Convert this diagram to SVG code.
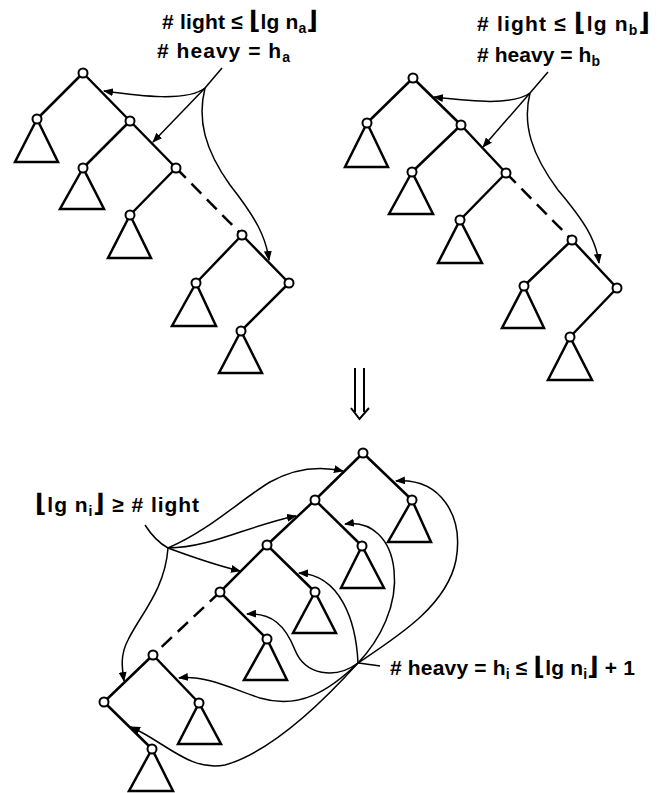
<svg xmlns="http://www.w3.org/2000/svg" width="669" height="793" viewBox="0 0 669 793">
<style>
.e{stroke:#000;stroke-width:2.5;fill:none;stroke-linecap:round}
.d{stroke-dasharray:14 8;stroke-linecap:butt}
.n{fill:#fff;stroke:#000;stroke-width:2}
.t{fill:none;stroke:#000;stroke-width:2.5;stroke-linejoin:miter}
.c{fill:none;stroke:#000;stroke-width:1.5}
.a{marker-end:url(#ah)}
text{font-family:"Liberation Sans","DejaVu Sans",sans-serif;font-weight:bold;font-size:21px;fill:#000}
.s{font-size:14px}
.b{font-size:25px}
</style>
<defs>
<marker id="ah" viewBox="0 0 10 8" refX="9" refY="4" markerWidth="10" markerHeight="8" markerUnits="userSpaceOnUse" orient="auto"><path d="M0,0 L10,4 L0,8 z" fill="#000"/></marker>
</defs>
<rect width="669" height="793" fill="#fff"/>

<g id="connectors">
 <!-- top-left tree edges -->
 <path class="e" d="M83,73 L37,119 M83,73 L130,121 M130,121 L83,168 M130,121 L176,168 M176,168 L130,215 M242,235 L196,283 M242,235 L289,283 M289,283 L241,331"/>
 <path class="e d" d="M176,168 L242,235"/>
 <!-- top-right tree edges -->
 <path class="e" d="M413,78 L367,123 M413,78 L461,125 M461,125 L412,172 M461,125 L506,173 M506,173 L460,220 M572,240 L524,286 M572,240 L617,288 M617,288 L570,337"/>
 <path class="e d" d="M506,173 L572,240"/>
 <!-- bottom tree edges -->
 <path class="e" d="M363,453 L315,500 M363,453 L412,500 M315,500 L267,545 M315,500 L362,546 M267,545 L220,592 M267,545 L315,592 M220,592 L267,639 M153,655 L104,702 M153,655 L199,703 M104,702 L152,749"/>
 <path class="e d" d="M220,592 L153,655"/>

 <!-- top-left annotation curves -->
 <path class="c" d="M222,68 L205,88"/>
 <path class="c a" d="M205,88 C187,102 140,96 104,91"/>
 <path class="c a" d="M205,88 L153,142"/>
 <path class="c a" d="M205,88 C197,120 205,150 230,185 C256,218 266,237 269,260"/>
 <!-- top-right annotation curves -->
 <path class="c" d="M548,72 L530,93"/>
 <path class="c a" d="M530,93 C512,106 470,101 434,97"/>
 <path class="c a" d="M530,93 L483,147"/>
 <path class="c a" d="M530,93 C522,125 532,155 558,190 C585,222 596,240 599,263"/>

 <!-- bottom light curves -->
 <path class="c" d="M145,525 C152,536 159,543 168,548"/>
 <path class="c a" d="M168,548 C210,530 240,500 270,482 C295,468 320,466 343,471"/>
 <path class="c a" d="M168,548 C210,548 250,525 296,516"/>
 <path class="c a" d="M168,548 C195,558 215,565 240,571"/>
 <path class="c a" d="M168,548 C165,590 140,615 128,640 C120,655 122,668 124,681"/>

 <!-- bottom heavy curves -->
 <path class="c" d="M358,663 C366,664 373,665 380,666"/>
 <path class="c a" d="M358,663 C400,635 447,605 456,560 C464,515 440,478 396,481"/>
 <path class="c a" d="M358,663 C380,640 398,605 394,570 C391,540 372,520 345,524"/>
 <path class="c a" d="M358,663 C356,620 340,575 299,573"/>
 <path class="c a" d="M358,663 C335,680 305,675 295,650 C285,625 272,613 247,614"/>
 <path class="c a" d="M358,663 C330,690 300,710 260,698 C230,688 205,675 179,678"/>
 <path class="c a" d="M358,663 C320,705 270,752 225,765 C190,772 165,742 131,727"/>

 <!-- double arrow -->
 <path class="c" style="stroke-width:2" d="M355,368 L355,412 M364,368 L364,412 M351,408 L359.5,419 L369,408"/>
</g>

<!-- top-left tree -->
<g id="tl-sub-1"><polygon class="t" points="37,119 15,162 58,162"/></g>
<g id="tl-sub-2"><polygon class="t" points="83,168 60,209 104,209"/></g>
<g id="tl-sub-3"><polygon class="t" points="130,215 108,258 151,258"/></g>
<g id="tl-sub-4"><polygon class="t" points="196,283 172,326 216,326"/></g>
<g id="tl-sub-5"><polygon class="t" points="241,331 219,373 262,373"/></g>
<g id="tl-n1"><circle class="n" cx="83" cy="73" r="4.5"/></g>
<g id="tl-n2"><circle class="n" cx="37" cy="119" r="4.5"/></g>
<g id="tl-n3"><circle class="n" cx="130" cy="121" r="4.5"/></g>
<g id="tl-n4"><circle class="n" cx="83" cy="168" r="4.5"/></g>
<g id="tl-n5"><circle class="n" cx="176" cy="168" r="4.5"/></g>
<g id="tl-n6"><circle class="n" cx="130" cy="215" r="4.5"/></g>
<g id="tl-n7"><circle class="n" cx="242" cy="235" r="4.5"/></g>
<g id="tl-n8"><circle class="n" cx="196" cy="283" r="4.5"/></g>
<g id="tl-n9"><circle class="n" cx="289" cy="283" r="4.5"/></g>
<g id="tl-n10"><circle class="n" cx="241" cy="331" r="4.5"/></g>

<!-- top-right tree -->
<g id="tr-sub-1"><polygon class="t" points="367,123 345,167 388,167"/></g>
<g id="tr-sub-2"><polygon class="t" points="412,172 389,214 433,214"/></g>
<g id="tr-sub-3"><polygon class="t" points="460,220 438,263 482,263"/></g>
<g id="tr-sub-4"><polygon class="t" points="524,286 502,328 544,328"/></g>
<g id="tr-sub-5"><polygon class="t" points="570,337 548,380 592,380"/></g>
<g id="tr-n1"><circle class="n" cx="413" cy="78" r="4.5"/></g>
<g id="tr-n2"><circle class="n" cx="367" cy="123" r="4.5"/></g>
<g id="tr-n3"><circle class="n" cx="461" cy="125" r="4.5"/></g>
<g id="tr-n4"><circle class="n" cx="412" cy="172" r="4.5"/></g>
<g id="tr-n5"><circle class="n" cx="506" cy="173" r="4.5"/></g>
<g id="tr-n6"><circle class="n" cx="460" cy="220" r="4.5"/></g>
<g id="tr-n7"><circle class="n" cx="572" cy="240" r="4.5"/></g>
<g id="tr-n8"><circle class="n" cx="524" cy="286" r="4.5"/></g>
<g id="tr-n9"><circle class="n" cx="617" cy="288" r="4.5"/></g>
<g id="tr-n10"><circle class="n" cx="570" cy="337" r="4.5"/></g>

<!-- bottom tree -->
<g id="b-sub-1"><polygon class="t" points="412,500 388,542 431,542"/></g>
<g id="b-sub-2"><polygon class="t" points="362,546 341,588 384,588"/></g>
<g id="b-sub-3"><polygon class="t" points="315,592 293,633 336,633"/></g>
<g id="b-sub-4"><polygon class="t" points="267,639 244,680 287,680"/></g>
<g id="b-sub-5"><polygon class="t" points="199,703 178,744 221,744"/></g>
<g id="b-sub-6"><polygon class="t" points="152,749 129,791 173,791"/></g>
<g id="b-n1"><circle class="n" cx="363" cy="453" r="4.5"/></g>
<g id="b-n2"><circle class="n" cx="315" cy="500" r="4.5"/></g>
<g id="b-n3"><circle class="n" cx="412" cy="500" r="4.5"/></g>
<g id="b-n4"><circle class="n" cx="267" cy="545" r="4.5"/></g>
<g id="b-n5"><circle class="n" cx="362" cy="546" r="4.5"/></g>
<g id="b-n6"><circle class="n" cx="220" cy="592" r="4.5"/></g>
<g id="b-n7"><circle class="n" cx="315" cy="592" r="4.5"/></g>
<g id="b-n8"><circle class="n" cx="267" cy="639" r="4.5"/></g>
<g id="b-n9"><circle class="n" cx="153" cy="655" r="4.5"/></g>
<g id="b-n10"><circle class="n" cx="104" cy="702" r="4.5"/></g>
<g id="b-n11"><circle class="n" cx="199" cy="703" r="4.5"/></g>
<g id="b-n12"><circle class="n" cx="152" cy="749" r="4.5"/></g>

<!-- labels -->
<g id="labels">
 <text x="162" y="29" textLength="156" lengthAdjust="spacing"># light ≤ <tspan class="b">⌊</tspan>lg n<tspan class="s" dy="4">a</tspan><tspan class="b" dy="-4">⌋</tspan></text>
 <text x="157" y="58" textLength="133" lengthAdjust="spacing"># heavy = h<tspan class="s" dy="4">a</tspan></text>
 <text x="477" y="31" textLength="173" lengthAdjust="spacing"># light ≤ <tspan class="b">⌊</tspan>lg n<tspan class="s" dy="4">b</tspan><tspan class="b" dy="-4">⌋</tspan></text>
 <text x="477" y="62" textLength="123" lengthAdjust="spacing"># heavy = h<tspan class="s" dy="4">b</tspan></text>
 <text x="35" y="512" textLength="164" lengthAdjust="spacing"><tspan class="b">⌊</tspan>lg n<tspan class="s" dy="4">i</tspan><tspan class="b" dy="-4">⌋</tspan> ≥ # light</text>
 <text x="390" y="675" textLength="245" lengthAdjust="spacing"># heavy = h<tspan class="s" dy="4">i</tspan><tspan dy="-4"> ≤ </tspan><tspan class="b">⌊</tspan>lg n<tspan class="s" dy="4">i</tspan><tspan class="b" dy="-4">⌋</tspan> + 1</text>
</g>
</svg>
